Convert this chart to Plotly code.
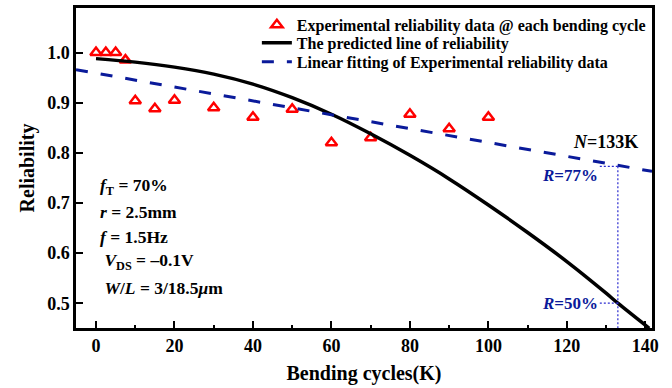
import plotly.graph_objects as go

# ---- data ----
cycles_exp = [0, 2.5, 5, 7.5, 10, 15, 20, 30, 40, 50, 60, 70, 80, 90, 100]
reliab_exp = [1.0, 1.0, 1.0, 0.985, 0.904, 0.888, 0.905, 0.890, 0.871, 0.887,
              0.820, 0.830, 0.877, 0.848, 0.871]

cycles_pred = [0, 10, 20, 30, 40, 50, 60, 70, 80, 90, 100, 110, 120, 130, 133, 141]
reliab_pred = [0.988, 0.981, 0.971, 0.957, 0.937, 0.910, 0.877, 0.838, 0.795,
               0.748, 0.696, 0.641, 0.583, 0.520, 0.500, 0.450]

cycles_fit = [-5.1, 141.7]
reliab_fit = [0.966, 0.763]

N_mark = 133
R_fit_mark = 0.773
R_pred_mark = 0.50
guide_x0 = 128.4
y_floor = 0.45

FONT = "Liberation Serif"
BLUE = "#0a1a9a"
DOT = "#2b2bd0"

fig = go.Figure()

fig.add_trace(go.Scatter(
    x=cycles_exp, y=reliab_exp, mode="markers",
    name="Experimental reliability data @ each bending cycle", legend="legend",
    marker=dict(symbol="triangle-up-open", size=10, color="#ff0000",
                line=dict(width=2.5, color="#ff0000")),
))
fig.add_trace(go.Scatter(
    x=cycles_pred, y=reliab_pred, mode="lines",
    name="The predicted line of reliability", legend="legend2",
    line=dict(color="black", width=3.5, shape="spline", smoothing=1.0),
))
fig.add_trace(go.Scatter(
    x=cycles_fit, y=reliab_fit, mode="lines",
    name="Linear fitting of Experimental reliability data", legend="legend3",
    line=dict(color=BLUE, width=3, dash="12px,13px"),
))

# guide lines
for gx, gy in ([[N_mark, N_mark], [y_floor, R_fit_mark]],
               [[guide_x0, N_mark], [R_fit_mark, R_fit_mark]],
               [[guide_x0, N_mark], [R_pred_mark, R_pred_mark]]):
    fig.add_trace(go.Scatter(
        x=gx, y=gy, mode="lines", showlegend=False,
        line=dict(color=DOT, width=1.2, dash="2px,2px"), hoverinfo="skip"))

ann_font = dict(family=FONT, size=17.5, color="black", weight="bold")
blue_font = dict(family=FONT, size=17, color=BLUE, weight="bold")

annotations = [
    dict(x=guide_x0, y=0.754, xref="x", yref="y", text="<i>R</i>=77%",
         showarrow=False, xanchor="right", yanchor="middle", font=blue_font),
    dict(x=guide_x0, y=0.50, xref="x", yref="y", text="<i>R</i>=50%",
         showarrow=False, xanchor="right", yanchor="middle", font=blue_font),
    dict(x=138.6, y=0.822, xref="x", yref="y", text="<i>N</i>=133K",
         showarrow=False, xanchor="right", yanchor="middle",
         font=dict(family=FONT, size=18, color="black", weight="bold")),
]
param_lines = [
    ("<i>f</i><sub>T</sub> = 70%", 0.733),
    ("<i>r</i> = 2.5mm", 0.681),
    ("<i>f</i> = 1.5Hz", 0.633),
    (" <i>V</i><sub>DS</sub> = \u20130.1V", 0.584),
    (" <i>W</i>/<i>L</i> = 3/18.5<i>\u03bc</i>m", 0.530),
]
for txt, yy in param_lines:
    annotations.append(dict(x=0.6, y=yy, xref="x", yref="y", text=txt,
                            showarrow=False, xanchor="left", yanchor="middle",
                            font=ann_font))

axis_common = dict(
    showline=True, linecolor="black", linewidth=2.5, mirror=True,
    ticks="inside", ticklen=7, tickwidth=2, tickcolor="black",
    showgrid=False, zeroline=False,
    tickfont=dict(family=FONT, size=18, color="black", weight="bold"),
)

leg_common = dict(xanchor="left", yanchor="middle", bgcolor="rgba(0,0,0,0)",
                  font=dict(family=FONT, size=16, color="black", weight="bold"))

fig.update_layout(
    width=672, height=388,
    margin=dict(l=76, r=20, t=5, b=60),
    plot_bgcolor="white", paper_bgcolor="white",
    font=dict(family=FONT, color="black"),
    xaxis=dict(range=[-5.1, 141.7], tick0=0, dtick=20,
               minor=dict(ticks="inside", ticklen=3, tickwidth=2, dtick=10,
                          tick0=0, tickcolor="black"),
               title=dict(text="Bending cycles(K)", standoff=11,
                          font=dict(family=FONT, size=20, color="black", weight="bold")),
               **axis_common),
    yaxis=dict(range=[0.4505, 1.089], tick0=0.5, dtick=0.1, tickformat=".1f",
               title=dict(text="Reliability", standoff=8,
                          font=dict(family=FONT, size=20, color="black", weight="bold")),
               **axis_common),
    legend=dict(x=0.314, y=0.947, **leg_common),
    legend2=dict(x=0.314, y=0.891, **leg_common),
    legend3=dict(x=0.314, y=0.832, **leg_common),
    annotations=annotations,
    showlegend=True,
)

fig.write_html("out.html")
